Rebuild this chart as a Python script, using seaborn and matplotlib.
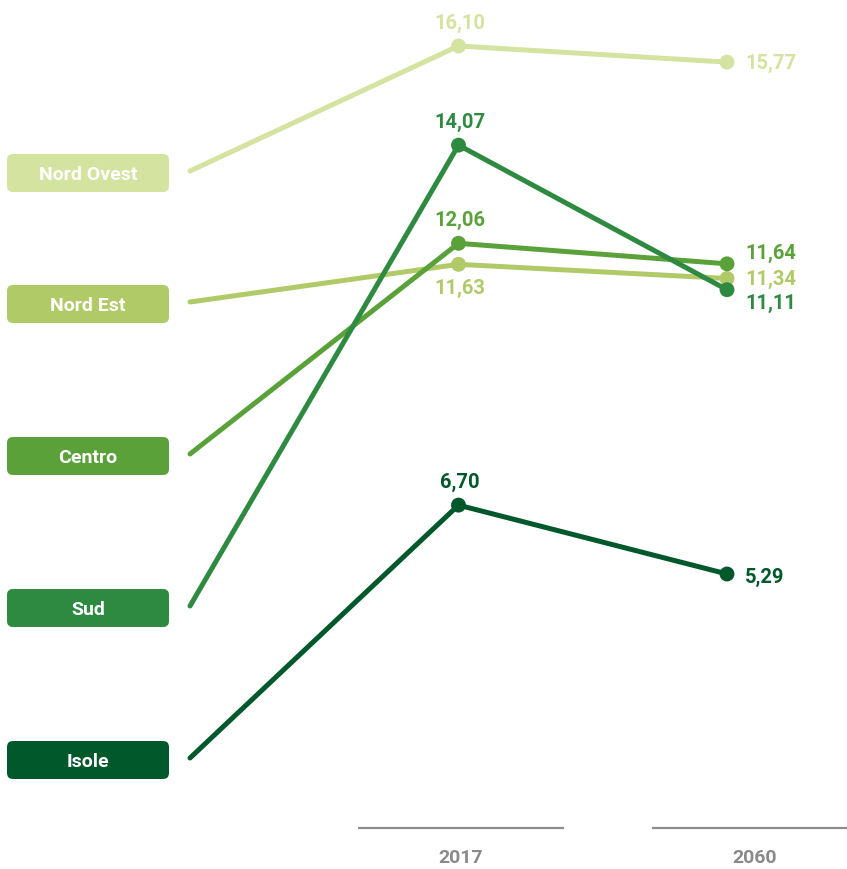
import matplotlib
matplotlib.use("Agg")
import matplotlib.pyplot as plt
from matplotlib.patches import FancyBboxPatch
from matplotlib.transforms import Affine2D
import numpy as np
import pandas as pd
import seaborn as sns

# ---- data -------------------------------------------------------------
regions = ["Nord Ovest", "Nord Est", "Centro", "Sud", "Isole"]
years = ["2017", "2060"]
values_2017 = [16.10, 11.63, 12.06, 14.07, 6.70]
values_2060 = [15.77, 11.34, 11.64, 11.11, 5.29]
colors = ["#d4e3a0", "#b1ca68", "#5aa13a", "#2e8a41", "#00582b"]

# ---- layout (pixels, measured from the top-left corner) ----------------
W, H = 847, 870
row_y = [174, 305, 457, 609, 761]          # centre of each region box
line_start_x = 190
box_x, box_w, box_h = 7, 162, 38
x0_px, x1_px, x2_px = 190, 458.5, 727      # anchor, 2017, 2060 columns

sns.set_theme(style="white")
plt.rcParams["font.family"] = ["Roboto", "DejaVu Sans"]

fig = plt.figure(figsize=(W / 100, H / 100), dpi=100)
ax = fig.add_axes([0, 0, 1, 1])
ax.set_axis_off()

unit = (x1_px - x0_px)
ax.set_xlim(-x0_px / unit, (W - x0_px) / unit)
ax.set_ylim(-0.75, 17.062)

# pixel coordinates (origin top-left) -> display
pix = Affine2D().scale(1, -1).translate(0, H).scale(1 / 100) + fig.dpi_scale_trans
to_data = ax.transData.inverted()

def row_value(y_px):
    return to_data.transform(pix.transform((line_start_x, y_px)))[1]

# long-form table: anchor point + two year values for each region
rows = []
for i, r in enumerate(regions):
    rows.append({"region": r, "x": 0.0, "value": row_value(row_y[i] - 2), "kind": "anchor"})
    rows.append({"region": r, "x": 1.0, "value": values_2017[i], "kind": "2017"})
    rows.append({"region": r, "x": 2.0, "value": values_2060[i], "kind": "2060"})
df = pd.DataFrame(rows)
palette = dict(zip(regions, colors))

sns.lineplot(data=df, x="x", y="value", hue="region", palette=palette,
             linewidth=3.6, legend=False, ax=ax, sort=False,
             solid_capstyle="round", solid_joinstyle="round")
pts = df[df["kind"] != "anchor"]
sns.scatterplot(data=pts, x="x", y="value", hue="region", palette=palette,
                s=115, linewidth=0, legend=False, ax=ax, zorder=5)

def fmt(v):
    return f"{v:.2f}".replace(".", ",")

label_size = 14.5

# value labels at 2017 (above the point, 11,63 below)
for i, r in enumerate(regions):
    dy = -17 if r == "Nord Est" else 17
    ax.annotate(fmt(values_2017[i]), (1, values_2017[i]), xytext=(1, dy),
                textcoords="offset points", ha="center", va="center",
                fontsize=label_size, fontweight="bold", color=colors[i])

# value labels at 2060 (right of the point)
dy_2060 = {"Nord Ovest": 0, "Nord Est": 0, "Centro": 8, "Sud": -9, "Isole": -2}
for i, r in enumerate(regions):
    ax.annotate(fmt(values_2060[i]), (2, values_2060[i]), xytext=(13, dy_2060[r]),
                textcoords="offset points", ha="left", va="center",
                fontsize=label_size, fontweight="bold", color=colors[i])

# region boxes on the left
for i, r in enumerate(regions):
    top = row_y[i] - box_h / 2
    box = FancyBboxPatch((box_x, top), box_w, box_h,
                         boxstyle="round,pad=0,rounding_size=6",
                         transform=pix, facecolor=colors[i], edgecolor="none",
                         clip_on=False)
    ax.add_patch(box)
    ax.text(box_x + box_w / 2, row_y[i] + 1, r, transform=pix,
            ha="center", va="center", fontsize=14, fontweight="bold",
            color="white")

# year baseline segments and labels
for (xa, xb), xt, yr in [((358, 564), 461, years[0]), ((652, 847), 755, years[1])]:
    ax.plot([xa, xb], [829, 829], transform=pix, color="#8c8c8c",
            linewidth=1.6, solid_capstyle="butt", clip_on=False)
    ax.text(xt, 858, yr, transform=pix, ha="center", va="center",
            fontsize=14, fontweight="bold", color="#8a8a8a")

fig.savefig("out.png", dpi=100, facecolor="white")
